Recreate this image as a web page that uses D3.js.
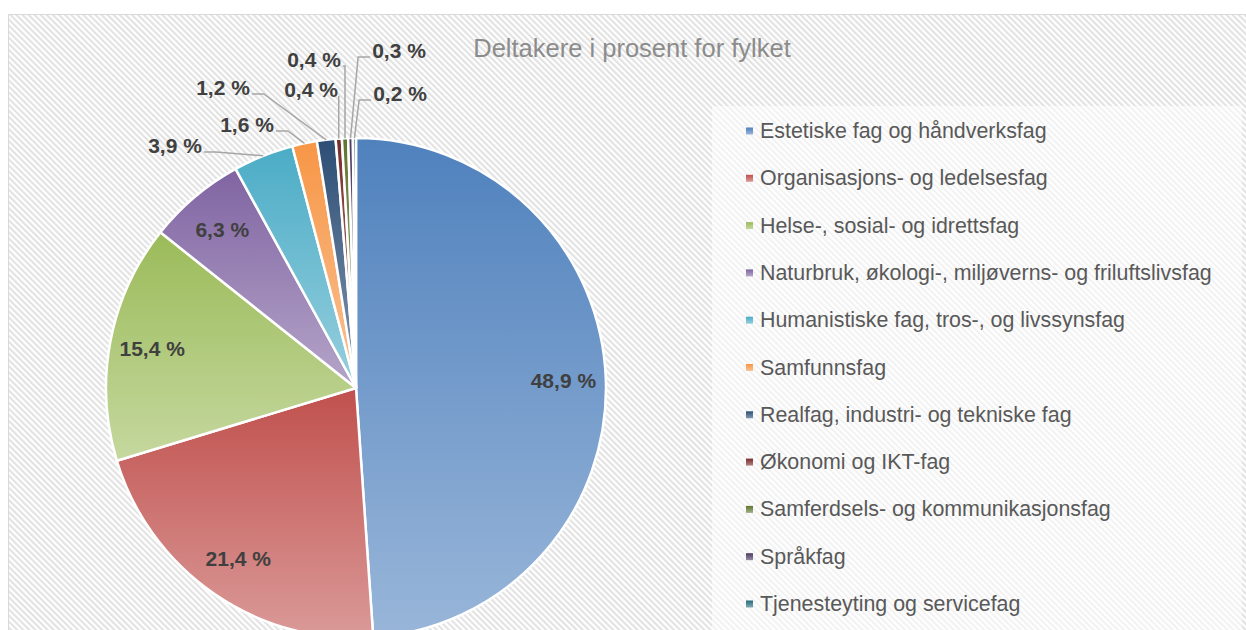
<!DOCTYPE html>
<html>
<head>
<meta charset="utf-8">
<script src="https://cdn.jsdelivr.net/npm/d3@7"></script>
<style>
    body { margin: 0; background: #fff; }
    text { font-family: "Liberation Sans", Arial, sans-serif; }
</style>
</head>
<body>
<svg id="chart"></svg>
<script>
// Data
const categories = [
    "Estetiske fag og håndverksfag",
    "Organisasjons- og ledelsesfag",
    "Helse-, sosial- og idrettsfag",
    "Naturbruk, økologi-, miljøverns- og friluftslivsfag",
    "Humanistiske fag, tros-, og livssynsfag",
    "Samfunnsfag",
    "Realfag, industri- og tekniske fag",
    "Økonomi og IKT-fag",
    "Samferdsels- og kommunikasjonsfag",
    "Språkfag",
    "Tjenesteyting og servicefag"
];
const shares = [48.9, 21.4, 15.4, 6.3, 3.9, 1.6, 1.2, 0.4, 0.4, 0.3, 0.2];
const colours = ["#4F81BD", "#C0504D", "#9BBB59", "#8064A2", "#4BACC6", "#F79646",
                 "#2C4D75", "#772C2A", "#5F7530", "#4D3B62", "#276A7C"];
const title = "Deltakere i prosent for fylket";

const config = {
    width: 1246,
    height: 630,
    centre: [356, 388],
    radius: 250,
    insideLabelRadius: 0.83,
    // slices too thin for an inside label get a callout (label centre, layout only)
    callouts: {
        4: [175, 146],
        5: [247, 125],
        6: [223, 88],
        7: [311, 90],
        8: [314, 60],
        9: [399, 51],
        10: [400, 94]
    },
    legend: {x: 712, y: 106, w: 530, h: 530, rowTop: 138, rowStep: 47.3}
};

const fmt = v => d3.format(".1f")(v).replace(".", ",") + " %";

const svg = d3.select("#chart")
    .attr("width", config.width)
    .attr("height", config.height);

const defs = svg.append("defs");

// diagonal hatch like the chart area fill
const hatch = defs.append("pattern")
    .attr("id", "hatch")
    .attr("patternUnits", "userSpaceOnUse")
    .attr("width", 4.3)
    .attr("height", 4.3)
    .attr("patternTransform", "rotate(-45)");
hatch.append("rect").attr("width", 4.3).attr("height", 4.3).attr("fill", "#fff");
hatch.append("rect").attr("width", 2.1).attr("height", 4.3).attr("fill", "#E2E2E2");

// one vertical gradient per series, darker on top
colours.forEach((c, i) => {
    const g = defs.append("linearGradient")
        .attr("id", "grad" + i)
        .attr("x1", 0).attr("y1", 0).attr("x2", 0).attr("y2", 1);
    g.append("stop").attr("offset", 0).attr("stop-color", c);
    g.append("stop").attr("offset", 1).attr("stop-color", d3.interpolateRgb(c, "#fff")(0.42));
});

svg.append("rect")
    .attr("x", 8.5).attr("y", 14.5)
    .attr("width", 1260).attr("height", 640)
    .attr("fill", "url(#hatch)")
    .attr("stroke", "#D9D9D9");

svg.append("text")
    .attr("x", 632).attr("y", 57)
    .attr("text-anchor", "middle")
    .attr("font-size", 25.5)
    .attr("fill", "#8C8C8C")
    .text(title);

// pie
const pie = d3.pie().sort(null).value(d => d);
const arcs = pie(shares);
const arc = d3.arc().innerRadius(0).outerRadius(config.radius);
const labelArc = d3.arc()
    .innerRadius(config.radius * config.insideLabelRadius)
    .outerRadius(config.radius * config.insideLabelRadius);

const chart = svg.append("g")
    .attr("transform", `translate(${config.centre})`);

chart.selectAll("path.slice")
    .data(arcs)
    .join("path")
        .attr("class", "slice")
        .attr("d", arc)
        .attr("fill", (d, i) => `url(#grad${i})`)
        .attr("stroke", "#fff")
        .attr("stroke-width", 2.5)
        .attr("stroke-linejoin", "round");

// inside labels
chart.selectAll("text.inside")
    .data(arcs.filter((d, i) => !(i in config.callouts)))
    .join("text")
        .attr("class", "inside")
        .attr("transform", d => `translate(${labelArc.centroid(d)})`)
        .attr("text-anchor", "middle")
        .attr("dy", "0.35em")
        .attr("font-size", 21)
        .attr("font-weight", "bold")
        .attr("fill", "#404040")
        .text(d => fmt(d.data));

// callout labels with leader lines
const outer = svg.append("g");
arcs.forEach((d, i) => {
    if (!(i in config.callouts)) return;
    const [lx, ly] = config.callouts[i];
    const mid = (d.startAngle + d.endAngle) / 2;
    const ax = config.centre[0] + config.radius * Math.sin(mid);
    const ay = config.centre[1] - config.radius * Math.cos(mid);

    const t = outer.append("text")
        .attr("x", lx).attr("y", ly)
        .attr("text-anchor", "middle")
        .attr("dy", "0.35em")
        .attr("font-size", 21)
        .attr("font-weight", "bold")
        .attr("fill", "#404040")
        .text(fmt(d.data));
    const w = t.node().getComputedTextLength();

    const leftSide = lx < ax;
    const sx = leftSide ? Math.min(lx + w / 2 + 2, ax) : Math.max(lx - w / 2 - 2, ax);
    const sy = ly + 6;
    const run = Math.min(12, Math.abs(ax - sx));
    const ex = leftSide ? sx + run : sx - run;

    outer.insert("path", "text")
        .attr("d", d3.line()([[sx, sy], [ex, sy], [ax, ay]]))
        .attr("fill", "none")
        .attr("stroke", "#A6A6A6")
        .attr("stroke-width", 1.5);
});

// legend
const lg = config.legend;
svg.append("rect")
    .attr("x", lg.x).attr("y", lg.y)
    .attr("width", lg.w).attr("height", lg.h)
    .attr("fill", "#fff")
    .attr("fill-opacity", 0.55);

const rows = svg.append("g").selectAll("g")
    .data(categories)
    .join("g")
        .attr("transform", (d, i) => `translate(0,${lg.rowTop + i * lg.rowStep})`);
rows.append("rect")
    .attr("x", 746).attr("y", -10.5)
    .attr("width", 7).attr("height", 7)
    .attr("fill", (d, i) => `url(#grad${i})`);
rows.append("text")
    .attr("x", 760)
    .attr("font-size", 21.4)
    .attr("fill", "#595959")
    .text(d => d);
</script>
</body>
</html>
